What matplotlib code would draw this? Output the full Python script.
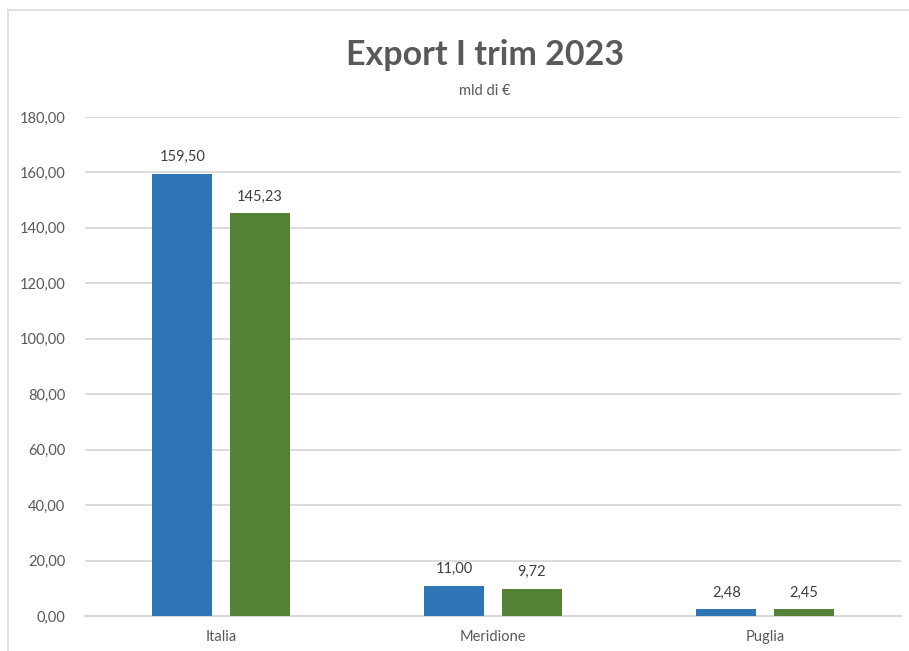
import numpy as np
import matplotlib.pyplot as plt
from matplotlib.lines import Line2D

categories = ["Italia", "Meridione", "Puglia"]
serie_a = [159.50, 11.00, 2.48]
serie_b = [145.23, 9.72, 2.45]
y_ticks = [0, 20, 40, 60, 80, 100, 120, 140, 160, 180]

blue = "#2E75B6"
green = "#548235"
grey = "#595959"
grid = "#D9D9D9"

plt.rcParams['font.family'] = ['Lato', 'DejaVu Sans']

fig = plt.figure(figsize=(9.09, 6.51), dpi=100)
ax = fig.add_axes([85/909, 35/651, 816/909, 499/651])

x = np.arange(len(categories))
w = 0.22
off = 0.142
b1 = ax.bar(x - off, serie_a, w, color=blue, zorder=3)
b2 = ax.bar(x + off, serie_b, w, color=green, zorder=3)

def fmt(v):
    return f"{v:.2f}".replace(".", ",")

for bars, vals in ((b1, serie_a), (b2, serie_b)):
    for r, v in zip(bars, vals):
        ax.annotate(fmt(v), (r.get_x() + r.get_width()/2, v), xytext=(0, 7),
                    textcoords="offset points", ha="center", va="bottom",
                    fontsize=10.5, color="#404040")

ax.set_xlim(-0.5, 2.5)
ax.set_ylim(0, 180)
ax.set_yticks(y_ticks)
ax.set_yticklabels([fmt(v) for v in y_ticks])
ax.set_xticks(x)
ax.set_xticklabels(categories)
ax.tick_params(axis="both", length=0, colors=grey, labelsize=10.5)
ax.tick_params(axis="y", pad=14)
ax.tick_params(axis="x", pad=10)
ax.yaxis.grid(True, color=grid, linewidth=1.3, zorder=0)
for s in ["top", "right", "left"]:
    ax.spines[s].set_visible(False)
ax.spines["bottom"].set_color(grid)
ax.spines["bottom"].set_linewidth(1.6)

fig.text(485/909, 1 - 55/651, "Export I trim 2023", ha="center", va="center",
         fontsize=24.5, fontweight="bold", color=grey)
fig.text(485/909, 1 - 91/651, "mld di €", ha="center", va="center",
         fontsize=10.5, color=grey)

# chart frame
fig.add_artist(Line2D([8/909, 8/909], [0, 1 - 10/651], color=grid, lw=1.2))
fig.add_artist(Line2D([8/909, 1], [1 - 10/651, 1 - 10/651], color=grid, lw=1.2))

fig.savefig("out.png", dpi=100)
